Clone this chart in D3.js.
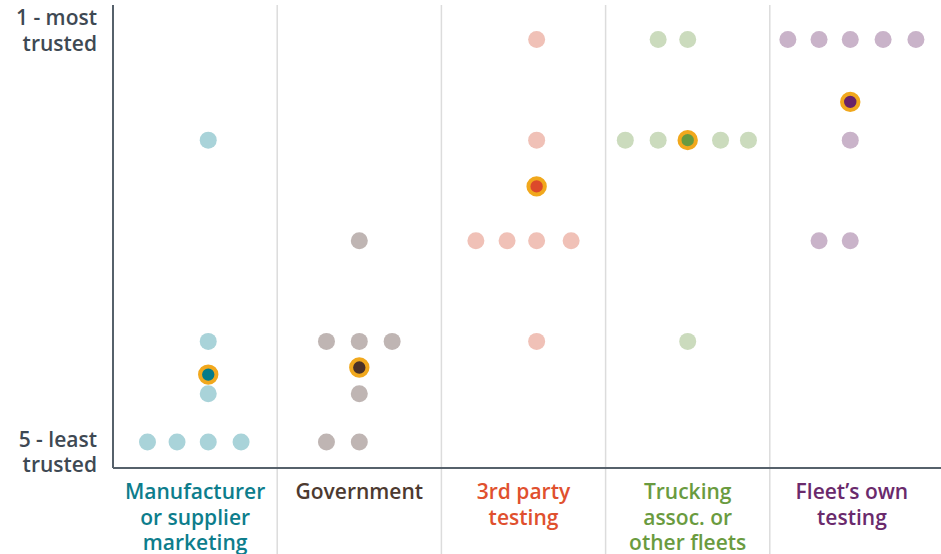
<!DOCTYPE html>
<html>
<head>
<meta charset="utf-8">
<script src="https://cdnjs.cloudflare.com/ajax/libs/d3/7.8.5/d3.min.js"></script>
<style>
  body { margin: 0; background: #fff; }
  text { font-family: "Open Sans", sans-serif; font-weight: 600; }
</style>
</head>
<body>
<script>
// categories along the bottom
var categories = [
    ["Manufacturer", "or supplier", "marketing"],
    ["Government"],
    ["3rd party", "testing"],
    ["Trucking", "assoc. or", "other fleets"],
    ["Fleet\u2019s own", "testing"]
];

// individual ratings per category (1 = most trusted, 5 = least trusted)
var ratings = [
    [2, 4, 4.52, 5, 5, 5, 5],
    [3, 4, 4, 4, 4.52, 5, 5],
    [1, 2, 3, 3, 3, 3, 4],
    [1, 1, 2, 2, 2, 2, 2, 4],
    [1, 1, 1, 1, 1, 2, 3, 3]
];

// horizontal spread of each dot inside its column (0..1)
var spread = [
    [0.58, 0.58, 0.58, 0.21, 0.39, 0.58, 0.78],
    [0.50, 0.30, 0.50, 0.70, 0.50, 0.30, 0.50],
    [0.58, 0.58, 0.21, 0.40, 0.58, 0.79, 0.58],
    [0.32, 0.50, 0.12, 0.32, 0.50, 0.70, 0.87, 0.50],
    [0.11, 0.30, 0.49, 0.69, 0.89, 0.49, 0.30, 0.49]
];

// average rating per category and its spread position
var averages = [4.33, 4.26, 2.46, 2, 1.62];
var avgSpread = [0.58, 0.50, 0.58, 0.50, 0.49];

var yTicks = [[1, ["1 - most", "trusted"]], [5, ["5 - least", "trusted"]]];

var lightColors = ["#a9d3d9", "#bfb5b3", "#f0c1b7", "#cbdbbd", "#c9b3c9"];
var darkColors  = ["#047b8a", "#4b3128", "#dc4a2b", "#679a40", "#68226a"];
var labelColors = ["#0d7d8c", "#4d3a30", "#e0502e", "#6a9b3f", "#6a2a6c"];

var width = 941, height = 554;
var margin = {left: 113, right: 7, top: 5, bottom: 86};

var svg = d3.select("body").append("svg")
    .attr("width", width)
    .attr("height", height);

var xScale = d3.scaleLinear().domain([0, categories.length]).range([margin.left, width - margin.right]);
var yScale = d3.scaleLinear().domain([1, 5]).range([39.5, 442]);

var bottom = height - margin.bottom;
var lineH = 25.5;

// column separators
svg.append("g")
    .selectAll("line")
    .data(d3.range(1, categories.length))
    .enter()
    .append("line")
    .attr("x1", function(d) { return xScale(d); })
    .attr("x2", function(d) { return xScale(d); })
    .attr("y1", margin.top)
    .attr("y2", height)
    .attr("stroke", "#dcdcdc")
    .attr("stroke-width", 1.5);

// axes
svg.append("line")
    .attr("x1", margin.left).attr("x2", margin.left)
    .attr("y1", margin.top).attr("y2", bottom)
    .attr("stroke", "#56616b").attr("stroke-width", 2);
svg.append("line")
    .attr("x1", margin.left).attr("x2", width)
    .attr("y1", bottom).attr("y2", bottom)
    .attr("stroke", "#56616b").attr("stroke-width", 2);

// y labels: top one hangs from the top of the axis, bottom one sits on the bottom
var yLab = svg.append("g")
    .selectAll("text")
    .data(yTicks)
    .enter()
    .append("text")
    .attr("text-anchor", "end")
    .attr("fill", "#3e4953")
    .style("font-size", "21px");
yLab.selectAll("tspan")
    .data(function(d, k) { return d[1].map(function(s, i) { return {s: s, i: i, k: k, n: d[1].length}; }); })
    .enter()
    .append("tspan")
    .attr("x", 97)
    .attr("y", function(d) {
        if (d.k == 0) return margin.top + 20 + d.i * lineH;
        return bottom + 4 - (d.n - 1 - d.i) * lineH;
    })
    .text(function(d) { return d.s; });

// category labels
var cat = svg.append("g")
    .selectAll("text")
    .data(categories)
    .enter()
    .append("text")
    .attr("text-anchor", "middle")
    .attr("fill", function(d, i) { return labelColors[i]; })
    .style("font-size", "21px");
cat.selectAll("tspan")
    .data(function(d, ci) { return d.map(function(s, i) { return {s: s, i: i, c: ci}; }); })
    .enter()
    .append("tspan")
    .attr("x", function(d) { return xScale(d.c + 0.5); })
    .attr("y", function(d) { return 499 + d.i * lineH; })
    .text(function(d) { return d.s; });

// dots
var dots = [];
ratings.forEach(function(row, ci) {
    row.forEach(function(v, j) { dots.push([ci, spread[ci][j], v]); });
});

svg.append("g")
    .selectAll("circle")
    .data(dots)
    .enter()
    .append("circle")
    .attr("cx", function(d) { return xScale(d[0] + d[1]); })
    .attr("cy", function(d) { return yScale(d[2]); })
    .attr("r", 8.5)
    .attr("fill", function(d) { return lightColors[d[0]]; });

// averages
svg.append("g")
    .selectAll("circle")
    .data(averages)
    .enter()
    .append("circle")
    .attr("cx", function(d, i) { return xScale(i + avgSpread[i]); })
    .attr("cy", function(d) { return yScale(d); })
    .attr("r", 8.2)
    .attr("fill", function(d, i) { return darkColors[i]; })
    .attr("stroke", "#f1a81d")
    .attr("stroke-width", 4);
</script>
</body>
</html>
